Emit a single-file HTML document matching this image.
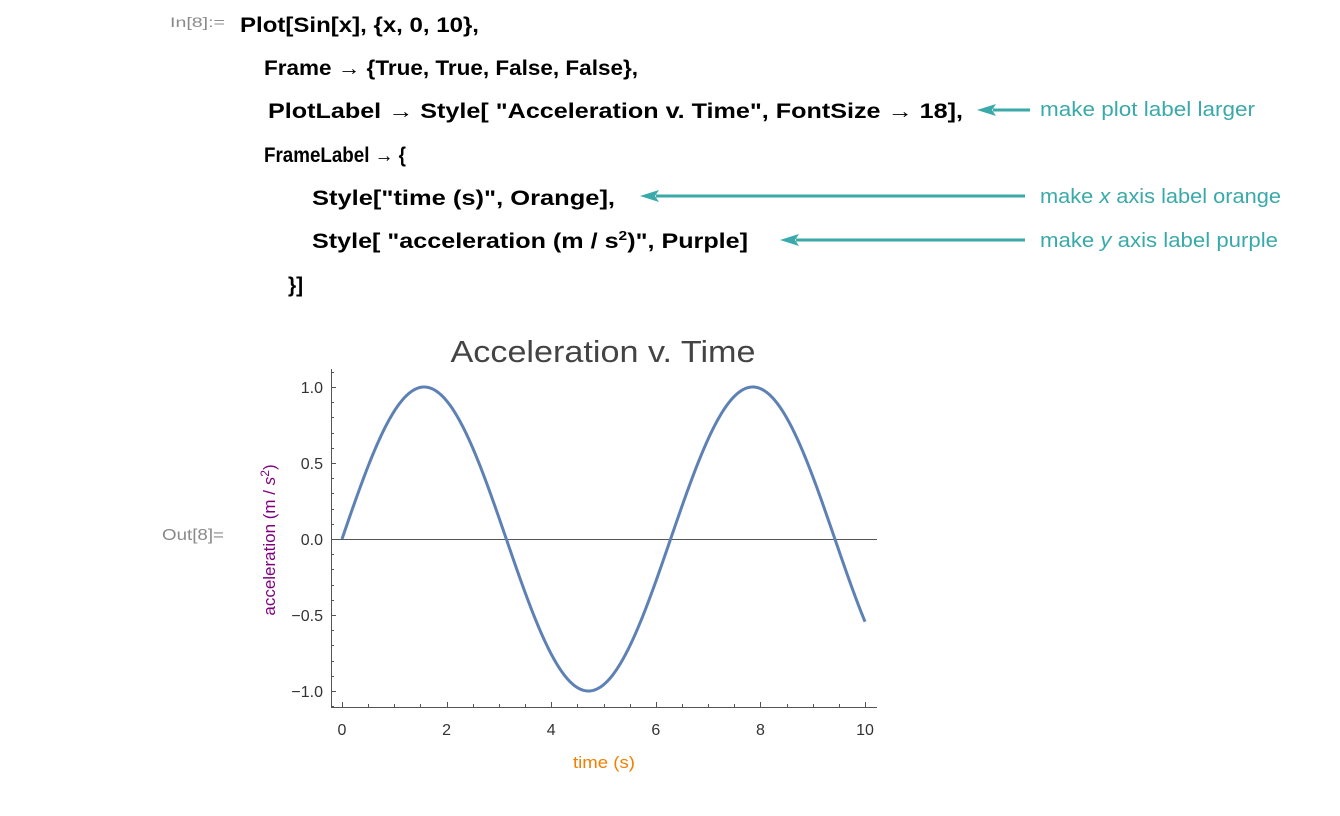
<!DOCTYPE html>
<html><head><meta charset="utf-8"><style>
html,body{margin:0;padding:0;background:#fff;width:1340px;height:816px;overflow:hidden}
svg{display:block}
.c{font-family:"Liberation Sans",sans-serif;font-weight:bold;font-size:21px;fill:#000}
.n{font-family:"Liberation Sans",sans-serif;font-size:20px;fill:#3aa9aa}
.t{font-family:"Liberation Sans",sans-serif;font-size:16px;fill:#333}
</style></head><body>
<svg width="1340" height="816" viewBox="0 0 1340 816">
<text x="170" y="27" font-family="Liberation Sans" font-size="14" fill="#8a8a8a" textLength="55" lengthAdjust="spacingAndGlyphs">In[8]:=</text>
<text class="c" x="240" y="32" textLength="239" lengthAdjust="spacingAndGlyphs">Plot[Sin[x],  {x,  0,  10},</text>
<text class="c" x="264" y="75" textLength="374" lengthAdjust="spacingAndGlyphs">Frame → {True, True, False, False},</text>
<text class="c" x="268" y="118" textLength="695" lengthAdjust="spacingAndGlyphs">PlotLabel  →  Style[ "Acceleration v. Time", FontSize → 18],</text>
<text class="c" x="264" y="162" textLength="142" lengthAdjust="spacingAndGlyphs">FrameLabel → {</text>
<text class="c" x="312" y="205" textLength="303" lengthAdjust="spacingAndGlyphs">Style["time (s)", Orange],</text>
<text class="c" x="312" y="248" textLength="436" lengthAdjust="spacingAndGlyphs">Style[ "acceleration (m / s<tspan dy="-8" font-size="13">2</tspan><tspan dy="8">)", Purple]</tspan></text>
<text class="c" x="288" y="292">}]</text>
<g stroke="#3aa9aa" stroke-width="3" fill="#3aa9aa">
<line x1="993" y1="110" x2="1030" y2="110"/><polygon points="977,110 996,104 992,110 996,116" stroke="none"/>
<line x1="656" y1="196" x2="1025" y2="196"/><polygon points="640,196 659,190 655,196 659,202" stroke="none"/>
<line x1="796" y1="240" x2="1025" y2="240"/><polygon points="780,240 799,234 795,240 799,246" stroke="none"/>
</g>
<text class="n" x="1040" y="116" textLength="215" lengthAdjust="spacingAndGlyphs">make plot label larger</text>
<text class="n" x="1040" y="203" textLength="241" lengthAdjust="spacingAndGlyphs">make <tspan font-style="italic">x</tspan> axis label orange</text>
<text class="n" x="1040" y="247" textLength="238" lengthAdjust="spacingAndGlyphs">make <tspan font-style="italic">y</tspan> axis label purple</text>
<text x="162" y="540" font-family="Liberation Sans" font-size="16" fill="#8a8a8a" textLength="62" lengthAdjust="spacingAndGlyphs">Out[8]=</text>
<text x="603" y="362" text-anchor="middle" font-family="Liberation Sans" font-size="31" fill="#444" textLength="305" lengthAdjust="spacingAndGlyphs">Acceleration v. Time</text>
<g id="ax" stroke="#555" stroke-width="1" fill="none">
<line x1="331.5" y1="369" x2="331.5" y2="707.5"/>
<line x1="331" y1="707.5" x2="877" y2="707.5"/>
<line x1="331" y1="539.5" x2="877" y2="539.5"/>
</g>
<path id="curve" fill="none" stroke="#5e81b5" stroke-width="3" stroke-linejoin="round"/>
<g id="lab"></g>
<text x="604" y="768" text-anchor="middle" font-family="Liberation Sans" font-size="17" fill="#f08000" textLength="62" lengthAdjust="spacingAndGlyphs">time (s)</text>
<text transform="translate(275,540) rotate(-90)" text-anchor="middle" font-family="Liberation Sans" font-size="17" fill="#800080">acceleration (m / <tspan font-style="italic">s</tspan><tspan dy="-6" font-size="12">2</tspan><tspan dy="6">)</tspan></text>
</svg>
<script>
var X=function(v){return 342+v*52.3},Y=function(v){return 539-v*152};
var d="";for(var i=0;i<=400;i++){var x=i/40;d+=(i?"L":"M")+X(x).toFixed(2)+","+Y(Math.sin(x)).toFixed(2);}
document.getElementById("curve").setAttribute("d",d);
var ns="http://www.w3.org/2000/svg",ax=document.getElementById("ax"),lab=document.getElementById("lab");
function ln(a,b,c,e){var l=document.createElementNS(ns,"line");l.setAttribute("x1",a);l.setAttribute("y1",b);l.setAttribute("x2",c);l.setAttribute("y2",e);ax.appendChild(l);}
function tx(x,y,s,anc){var t=document.createElementNS(ns,"text");t.setAttribute("x",x);t.setAttribute("y",y);t.setAttribute("class","t");t.setAttribute("text-anchor",anc);t.textContent=s;lab.appendChild(t);}
for(var k=0;k<=20;k++){var v=k/2,x=Math.round(X(v))+0.5,maj=k%4==0;ln(x,707,x,707-(maj?5:3));if(maj)tx(X(v),735,String(v),"middle");}
for(var k=-11;k<=11;k++){var v=k/10,y=Math.round(Y(v))+0.5,maj=k%5==0;ln(331,y,331+(maj?5:3),y);if(maj)tx(323,Y(v)+6,(v<0?"\u2212"+Math.abs(v).toFixed(1):v.toFixed(1)),"end");}
</script>
</body></html>
